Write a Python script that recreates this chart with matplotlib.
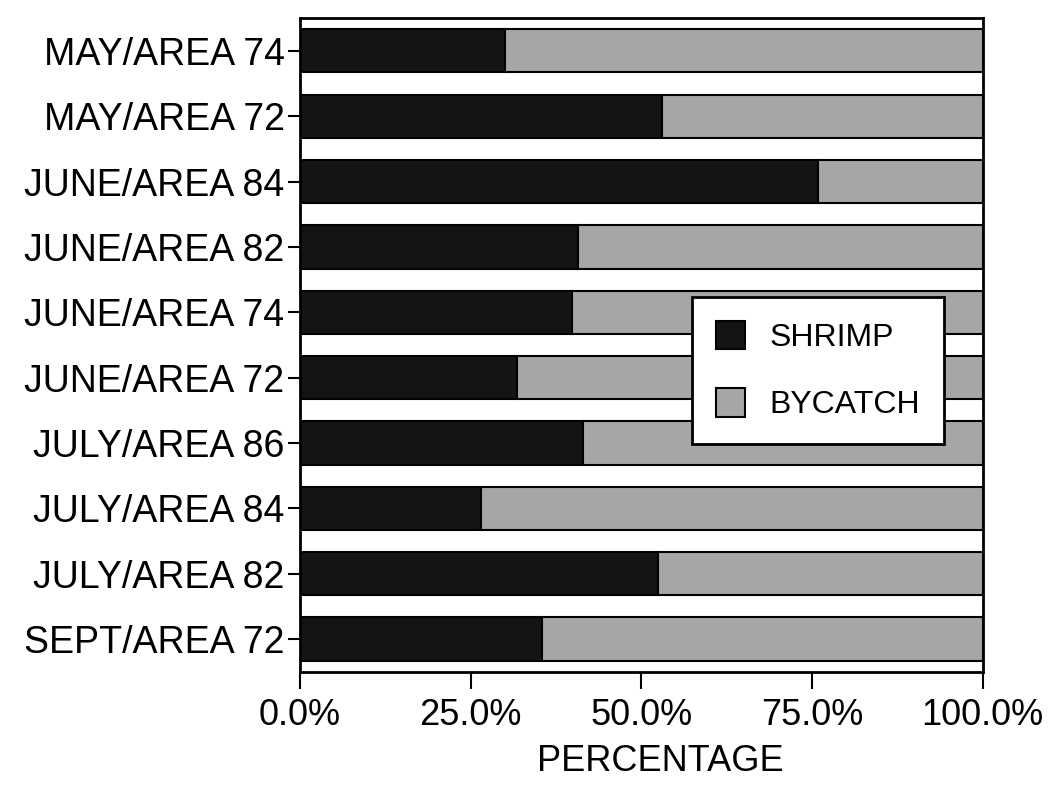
import numpy as np
from matplotlib import pyplot as plt
from matplotlib.ticker import PercentFormatter

plt.rcParams['font.family'] = ['Liberation Sans', 'DejaVu Sans']

# categories, top to bottom as in the picture
labels = ["MAY/AREA 74", "MAY/AREA 72", "JUNE/AREA 84", "JUNE/AREA 82",
          "JUNE/AREA 74", "JUNE/AREA 72", "JULY/AREA 86", "JULY/AREA 84",
          "JULY/AREA 82", "SEPT/AREA 72"]
# shrimp share of catch (%)
shrimp = [30.1, 53.1, 75.9, 40.7, 39.9, 31.8, 41.5, 26.6, 52.5, 35.4]
bycatch = [100.0 - s for s in shrimp]
x_ticks = [0, 25, 50, 75, 100]


if __name__ == '__main__':
    fig = plt.figure(figsize=(10.52, 7.93), dpi=100)
    ax = fig.add_axes([0.285, 0.153, 0.649, 0.824])

    ys = np.arange(len(labels))[::-1]
    ax.barh(ys, shrimp, height=0.66, color='#141414', edgecolor='black',
            linewidth=1.5, label='SHRIMP')
    ax.barh(ys, bycatch, left=shrimp, height=0.66, color='#a6a6a6',
            edgecolor='black', linewidth=1.5, label='BYCATCH')

    ax.set_xlim(0, 100)
    ax.set_ylim(-0.5, len(labels) - 0.5)
    ax.set_yticks(ys)
    ax.set_yticklabels(labels, fontsize=27)
    ax.set_xticks(x_ticks)
    ax.xaxis.set_major_formatter(PercentFormatter(decimals=1))
    ax.tick_params(axis='x', labelsize=26, length=12, width=1.5, pad=7)
    ax.tick_params(axis='y', length=9, width=1.5, pad=2)
    for sp in ax.spines.values():
        sp.set_linewidth(2)
    ax.set_xlabel("PERCENTAGE", fontsize=26)
    ax.xaxis.set_label_coords(0.528, -0.11)

    leg = ax.legend(loc='upper left', bbox_to_anchor=(0.575, 0.574),
                    fontsize=23, frameon=True, fancybox=False,
                    edgecolor='black', handlelength=0.9, handleheight=1.0,
                    handletextpad=0.75, labelspacing=1.1, borderpad=0.75,
                    borderaxespad=0)
    leg.get_frame().set_linewidth(2)
    leg.get_frame().set_alpha(1)

    fig.savefig("out.png", dpi=100)
